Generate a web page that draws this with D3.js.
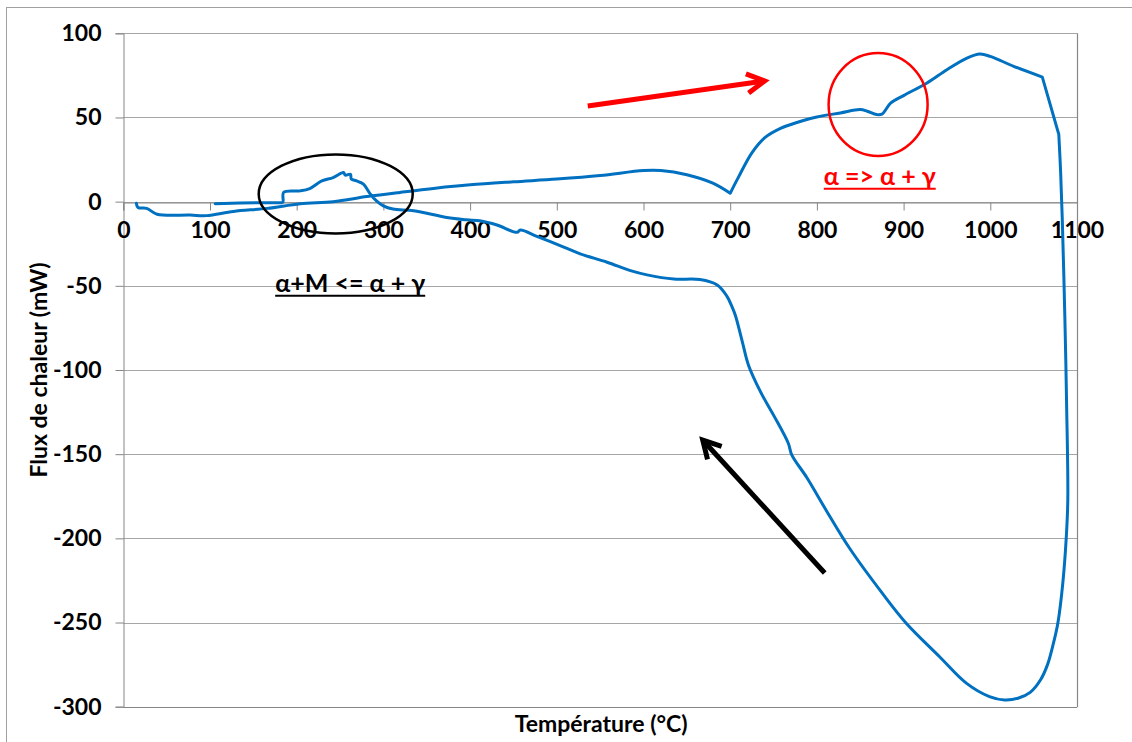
<!DOCTYPE html>
<html><head><meta charset="utf-8">
<script src="https://cdn.jsdelivr.net/npm/d3@7"></script>
<style>
html,body{margin:0;padding:0;background:#fff;}
svg{display:block;font-family:Lato,"Open Sans",sans-serif;}
</style></head>
<body>
<svg id="c" width="1132" height="742"></svg>
<script>
// ---- data ----
const heatingT    = [15,17,27,39,77,96,127,166,204,242,281,319,360,400,450,500,550,600,620,650,680,700,700,
                     710,725,740,758,777,800,827,850,858,869,875,885,900,927,950,973,988,1000,1027,1060,1060,1079,1079,1081,1083,1086,1088,1089.4];
const heatingFlux = [-1,-3.5,-4,-7.5,-8,-8.3,-5.8,-4,-1.2,0,3,5.5,8,10,11.8,13.4,15.5,18.5,18.5,16,11,5,5,
                     15,29,38,43.5,47,50.3,52.7,54.7,53.7,51.7,52,58.5,63,70.5,78.4,85.3,87.7,86.3,80.4,74,74,40,40,19,-10,-69,-120,-177];
const coolingT    = [1087.5,1083.6,1077.9,1072,1066,1058,1046,1032,1016.4,999,972.3,941.5,903,876,837.7,811.5,788.5,771,767,750,735,721,714,706,702,696,685,665,635,604,585,558,527,508,477,458,454,431,411,396,373,335,311,300,292,285,277,269,263,262,256,254,242,229,215,204,185,184,181,158,106];
const coolingFlux = [-200.5,-226.7,-250.4,-264,-275,-284,-291.5,-295,-296,-294,-286,-270.3,-250.4,-233,-205.9,-184,-164,-150.4,-143.5,-126.8,-113,-97,-83.3,-67.6,-62.4,-56,-49.5,-46.3,-46,-43.5,-41,-36,-31,-27,-20.6,-16.9,-18.2,-13.9,-11.4,-10.8,-9.4,-5.4,-4.4,-2.5,0.5,4.4,10.4,12.3,13.4,16.3,15.7,17.3,14.3,12.3,7.8,6.4,5.6,-0.4,-0.6,-0.6,-1.2];
const xTicks = [0,100,200,300,400,500,600,700,800,900,1000,1100];
const yTicks = [100,50,0,-50,-100,-150,-200,-250,-300];
const xTitle = "Température (°C)";
const yTitle = "Flux de chaleur (mW)";
const label1 = "α+M <= α + γ";
const label2 = "α => α + γ";

// ---- layout ----
const svg = d3.select("#c");
const x = d3.scaleLinear().domain([0,1100]).range([123.3,1077]);
const y = d3.scaleLinear().domain([-300,100]).range([706.7,33.3]);
const X0 = x(0), X1 = x(1100), Y0 = y(100), Y1 = y(-300);

// outer frame
svg.append("rect").attr("x",6.5).attr("y",7.5).attr("width",1140).attr("height",750)
  .attr("fill","#fff").attr("stroke","#a0a0a0").attr("stroke-width",1);

// gridlines
svg.append("g").selectAll("line").data(yTicks).join("line")
  .attr("x1",X0).attr("x2",X1).attr("y1",d=>Math.round(y(d))+0.5).attr("y2",d=>Math.round(y(d))+0.5)
  .attr("stroke",d=>d===-300?"#868686":"#a6a6a6").attr("stroke-width",1);
// right border
svg.append("line").attr("x1",Math.round(X1)+0.5).attr("x2",Math.round(X1)+0.5).attr("y1",Y0).attr("y2",Y1+0.5)
  .attr("stroke","#868686").attr("stroke-width",1.2);

const fmt = d => String(d);
// y axis
const yAxis = svg.append("g").attr("transform",`translate(${Math.round(X0)+0.5},0)`)
  .call(d3.axisLeft(y).tickValues(yTicks).tickSize(8).tickPadding(14).tickFormat(fmt));
yAxis.select(".domain").attr("stroke","#868686");
yAxis.selectAll(".tick line").attr("stroke","#868686");
yAxis.selectAll(".tick text").attr("font-size",23).attr("font-weight","bold").attr("fill","#000")
  .attr("font-family","Lato,sans-serif");

// x axis at y=0
const xAxis = svg.append("g").attr("transform",`translate(0,${Math.round(y(0))+0.5})`)
  .call(d3.axisBottom(x).tickValues(xTicks).tickSize(8).tickPadding(11).tickFormat(fmt));
xAxis.select(".domain").attr("stroke","#868686");
xAxis.selectAll(".tick line").attr("stroke","#868686");
xAxis.selectAll(".tick text").attr("font-size",23).attr("font-weight","bold").attr("fill","#000")
  .attr("font-family","Lato,sans-serif");

// curve
const pts = heatingT.map((t,i)=>[t,heatingFlux[i]]).concat(coolingT.map((t,i)=>[t,coolingFlux[i]]));
const line = d3.line().x(d=>x(d[0])).y(d=>y(d[1])).curve(d3.curveCatmullRom.alpha(0.5));
svg.append("path").datum(pts).attr("d",line).attr("fill","none")
  .attr("stroke","#0070C0").attr("stroke-width",3).attr("stroke-linejoin","round").attr("stroke-linecap","round");

// annotations (data coords)
svg.append("ellipse").attr("cx",x(245)).attr("cy",y(4.6)).attr("rx",77).attr("ry",39.5)
  .attr("fill","none").attr("stroke","#000").attr("stroke-width",2.5);
svg.append("ellipse").attr("cx",x(870.6)).attr("cy",y(57.7)).attr("rx",49.5).attr("ry",51.5)
  .attr("fill","none").attr("stroke","#ff0000").attr("stroke-width",2.5);

function arrow(t0,f0,t1,f1,color){
  const xa=x(t0), ya=y(f0), xb=x(t1), yb=y(f1);
  const ang=Math.atan2(yb-ya,xb-xa), L=20, a=0.5;
  const g=svg.append("g").attr("stroke",color).attr("stroke-width",5).attr("fill","none")
    .attr("stroke-linecap","butt").attr("stroke-linejoin","miter");
  g.append("line").attr("x1",xa).attr("y1",ya).attr("x2",xb-Math.cos(ang)*2).attr("y2",yb-Math.sin(ang)*2);
  g.append("path").attr("d",`M${xb-L*Math.cos(ang-a)},${yb-L*Math.sin(ang-a)}L${xb},${yb}L${xb-L*Math.cos(ang+a)},${yb-L*Math.sin(ang+a)}`);
}
arrow(535.7,56.8,739.7,71.7,"#ff0000");
arrow(809,-220.6,668.3,-141.6,"#000");

function ulabel(txt,cx,base,color){
  const t=svg.append("text").attr("x",cx).attr("y",base).attr("text-anchor","middle")
    .attr("font-size",25).attr("font-weight","bold").attr("fill",color).attr("font-family","Lato,sans-serif").text(txt);
  const w=t.node().getComputedTextLength();
  svg.append("line").attr("x1",cx-w/2).attr("x2",cx+w/2).attr("y1",base+4).attr("y2",base+4)
    .attr("stroke",color).attr("stroke-width",2);
}
ulabel(label1, x(261.7), y(-50)+6, "#000");
ulabel(label2, x(872.5), y(10), "#ff0000");

// axis titles
svg.append("text").attr("x",(X0+X1)/2+1).attr("y",732).attr("text-anchor","middle")
  .attr("font-size",23).attr("font-weight","bold").attr("fill","#000").text(xTitle);
svg.append("text").attr("transform",`translate(47,${(Y0+Y1)/2}) rotate(-90)`).attr("text-anchor","middle")
  .attr("font-size",23).attr("font-weight","bold").attr("fill","#000").text(yTitle);
</script>
</body></html>
